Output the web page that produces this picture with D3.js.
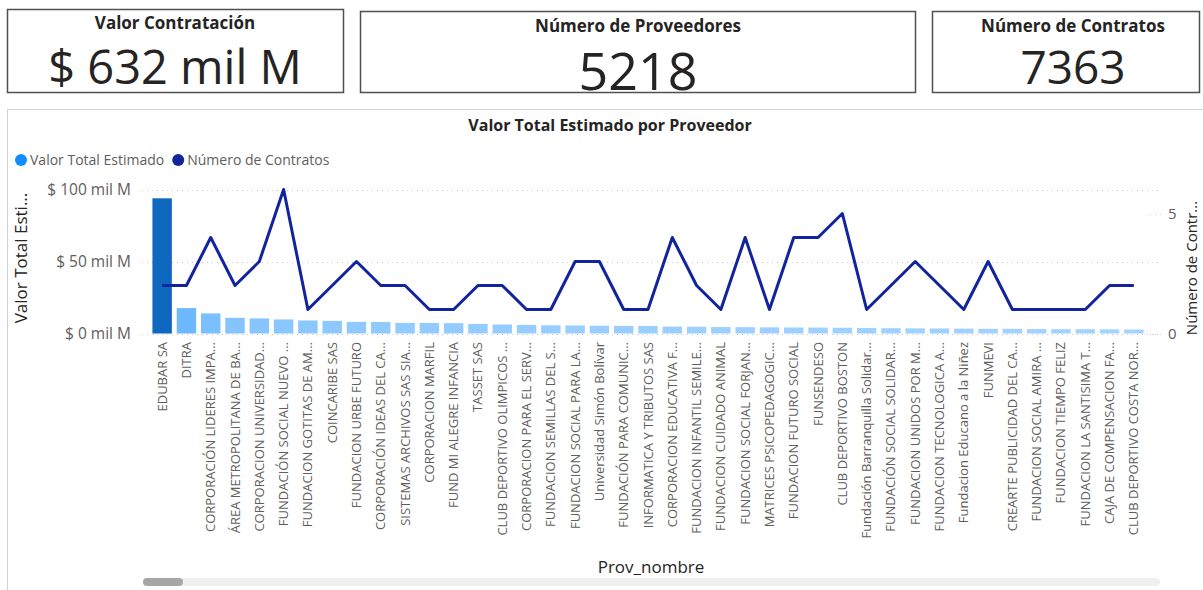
<!DOCTYPE html>
<html>
<head>
<meta charset="utf-8">
<script src="https://cdn.jsdelivr.net/npm/d3@7"></script>
<style>
  html, body { margin: 0; padding: 0; background: #fff; }
  svg { display: block; font-family: "Open Sans", "Segoe UI", sans-serif; }
</style>
</head>
<body>
<svg id="chart" width="1203" height="590"></svg>
<script>
// ---- Data ----
const cardTitles = ["Valor Contratación", "Número de Proveedores", "Número de Contratos"];
const cardValues = ["$ 632 mil M", "5218", "7363"];

const categories = [
  "EDUBAR SA", "DITRA", "CORPORACIÓN LIDERES IMPA...", "ÁREA METROPOLITANA DE BA...",
  "CORPORACION UNIVERSIDAD...", "FUNDACIÓN SOCIAL NUEVO ...", "FUNDACION GOTITAS DE AM...",
  "COINCARIBE SAS", "FUNDACION URBE FUTURO", "CORPORACIÓN IDEAS DEL CA...",
  "SISTEMAS ARCHIVOS SAS SIA...", "CORPORACION MARFIL", "FUND MI ALEGRE INFANCIA",
  "TASSET SAS", "CLUB DEPORTIVO OLIMPICOS ...", "CORPORACION PARA EL SERV...",
  "FUNDACION SEMILLAS DEL S...", "FUNDACION SOCIAL PARA LA...", "Universidad Simón Bolívar",
  "FUNDACIÓN PARA COMUNIC...", "INFORMATICA Y TRIBUTOS SAS", "CORPORACION EDUCATIVA F...",
  "FUNDACION INFANTIL SEMILE...", "FUNDACION CUIDADO ANIMAL", "FUNDACION SOCIAL FORJAN...",
  "MATRICES PSICOPEDAGOGIC...", "FUNDACION FUTURO SOCIAL", "FUNSENDESO",
  "CLUB DEPORTIVO BOSTON", "Fundación Barranquilla Solidar...", "FUNDACIÓN SOCIAL SOLIDAR...",
  "FUNDACION UNIDOS POR M...", "FUNDACION TECNOLOGICA A...", "Fundacion Educano a la Niñez",
  "FUNMEVI", "CREARTE PUBLICIDAD DEL CA...", "FUNDACION SOCIAL AMIRA ...",
  "FUNDACION TIEMPO FELIZ", "FUNDACION LA SANTISIMA T...", "CAJA DE COMPENSACION FA...",
  "CLUB DEPORTIVO COSTA NOR..."
];

// Valor Total Estimado (mil M)
const valorTotal = [
  94.2, 17.7, 14.0, 10.9, 10.5, 9.8, 9.1, 8.8, 8.1, 8.0,
  7.4, 7.3, 7.2, 6.7, 6.3, 6.0, 5.7, 5.6, 5.4, 5.3,
  5.2, 4.8, 4.7, 4.5, 4.4, 4.3, 4.2, 4.1, 4.0, 3.8,
  3.7, 3.6, 3.5, 3.4, 3.3, 3.3, 3.1, 3.0, 3.0, 2.9, 2.8
];

// Número de Contratos
const numContratos = [
  2, 2, 4, 2, 3, 6, 1, 2, 3, 2,
  2, 1, 1, 2, 2, 1, 1, 3, 3, 1,
  1, 4, 2, 1, 4, 1, 4, 4, 5, 1,
  2, 3, 2, 1, 3, 1, 1, 1, 1, 2, 2
];

const leftTicks = [0, 50, 100];
const rightTicks = [0, 5];
const legendItems = ["Valor Total Estimado", "Número de Contratos"];

// ---- Drawing ----
const svg = d3.select("#chart");

// KPI cards
const cards = [
  { x: 7, y: 9, w: 336, h: 83, cx: 175, tBase: 29, vSize: 47, vBase: 84 },
  { x: 360, y: 11, w: 555, h: 81, cx: 638, tBase: 32, vSize: 52, vBase: 90 },
  { x: 932, y: 11, w: 267, h: 81, cx: 1073, tBase: 32, vSize: 46, vBase: 84 }
];
cards.forEach((c, i) => {
  svg.append("rect").attr("x", c.x + 0.5).attr("y", c.y + 0.5)
    .attr("width", c.w).attr("height", c.h)
    .attr("fill", "#fff").attr("stroke", "#505050").attr("stroke-width", 1.5);
  svg.append("text").attr("x", c.cx).attr("y", c.tBase)
    .attr("text-anchor", "middle").attr("font-size", 17).attr("font-weight", 700)
    .attr("fill", "#252423").text(cardTitles[i]);
  svg.append("text").attr("x", c.cx).attr("y", c.vBase)
    .attr("text-anchor", "middle").attr("font-size", c.vSize).attr("font-weight", 400)
    .attr("fill", "#252423").text(cardValues[i]);
});

// Chart container
svg.append("rect").attr("x", 7.5).attr("y", 109.5).attr("width", 1210).attr("height", 500)
  .attr("fill", "#fff").attr("stroke", "#d0d0d0").attr("stroke-width", 1);

// Title
svg.append("text").attr("x", 610).attr("y", 131).attr("text-anchor", "middle")
  .attr("font-size", 16).attr("font-weight", 700).attr("fill", "#252423")
  .text("Valor Total Estimado por Proveedor");

// Legend
const legendColors = ["#118DFF", "#12239E"];
const lg = svg.append("g").attr("transform", "translate(21,160)");
let lx = 0;
legendItems.forEach((name, i) => {
  lg.append("circle").attr("cx", lx).attr("cy", 0).attr("r", 6).attr("fill", legendColors[i]);
  const t = lg.append("text").attr("x", lx + 9).attr("y", 5).attr("font-size", 14)
    .attr("fill", "#605E5C").text(name);
  lx += 9 + t.node().getComputedTextLength() + 14;
});

// Scales
const x = d3.scaleBand().domain(categories).range([150, 1146]).paddingInner(0.2).paddingOuter(0.1);
const yL = d3.scaleLinear().domain([0, 100]).range([333.5, 190]);
const yR = d3.scaleLinear().domain([0, 6]).range([333.5, 189.5]);

// Gridlines
svg.append("g").selectAll("line").data(leftTicks).join("line")
  .attr("x1", 142).attr("x2", 1158)
  .attr("y1", d => Math.round(yL(d)) + 0.5).attr("y2", d => Math.round(yL(d)) + 0.5)
  .attr("stroke", "#c8c8c8").attr("stroke-width", 1).attr("stroke-dasharray", "1,4");

// Left axis
const axL = d3.axisLeft(yL).tickValues(leftTicks).tickSize(0).tickPadding(0)
  .tickFormat(d => "$ " + d + " mil M");
const gL = svg.append("g").attr("transform", "translate(131,0)").call(axL);
gL.select(".domain").remove();
gL.selectAll("text").attr("font-size", 15.5).attr("fill", "#605E5C")
  .attr("font-family", "Open Sans, sans-serif");

// Right axis
const axR = d3.axisRight(yR).tickValues(rightTicks).tickSize(0).tickPadding(0)
  .tickFormat(d3.format("d"));
const gR = svg.append("g").attr("transform", "translate(1168,0)").call(axR);
gR.select(".domain").remove();
gR.selectAll("text").attr("font-size", 15).attr("fill", "#605E5C")
  .attr("font-family", "Open Sans, sans-serif");
svg.append("g").selectAll("line").data(rightTicks).join("line")
  .attr("x1", 1150).attr("x2", 1162)
  .attr("y1", d => Math.round(yR(d)) + 0.5).attr("y2", d => Math.round(yR(d)) + 0.5)
  .attr("stroke", "#c8c8c8").attr("stroke-dasharray", "1,4");

// Axis titles
svg.append("text").attr("transform", "translate(27,258) rotate(-90)")
  .attr("text-anchor", "middle").attr("font-size", 17).attr("fill", "#252423")
  .text("Valor Total Esti...");
svg.append("text").attr("transform", "translate(1197,268) rotate(-90)")
  .attr("text-anchor", "middle").attr("font-size", 15).attr("fill", "#252423")
  .text("Número de Contr...");
svg.append("text").attr("x", 651).attr("y", 573).attr("text-anchor", "middle")
  .attr("font-size", 17).attr("fill", "#252423").text("Prov_nombre");

// Bars
const color = d3.scaleLinear().domain([2.8, 17.7, 94.2])
  .range(["#a3d3ff", "#6db8ff", "#0f68bf"]);
svg.append("g").selectAll("rect").data(categories).join("rect")
  .attr("x", d => x(d)).attr("width", x.bandwidth())
  .attr("y", (d, i) => yL(valorTotal[i]))
  .attr("height", (d, i) => yL(0) - yL(valorTotal[i]))
  .attr("fill", (d, i) => color(valorTotal[i]));

// Line
const line = d3.line()
  .x((d, i) => x(categories[i]) + x.bandwidth() / 2)
  .y(d => yR(d));
svg.append("path").datum(numContratos).attr("d", line)
  .attr("fill", "none").attr("stroke", "#12239E").attr("stroke-width", 3)
  .attr("stroke-linejoin", "round");

// X axis labels
const axX = d3.axisBottom(x).tickSize(0).tickPadding(0);
const gX = svg.append("g").attr("transform", "translate(0,342)").call(axX);
gX.select(".domain").remove();
gX.selectAll("text")
  .attr("font-size", 13).attr("fill", "#605E5C").attr("font-family", "Open Sans, sans-serif")
  .attr("text-anchor", "end").attr("dy", null).attr("y", 0).attr("x", 0)
  .attr("transform", "rotate(-90) translate(0,4.5)");

// Scrollbar
svg.append("rect").attr("x", 143).attr("y", 578).attr("width", 1017).attr("height", 8)
  .attr("rx", 4).attr("fill", "#f0f0f0");
svg.append("rect").attr("x", 143).attr("y", 578).attr("width", 40).attr("height", 8)
  .attr("rx", 4).attr("fill", "#a6a6a6");
</script>
</body>
</html>
